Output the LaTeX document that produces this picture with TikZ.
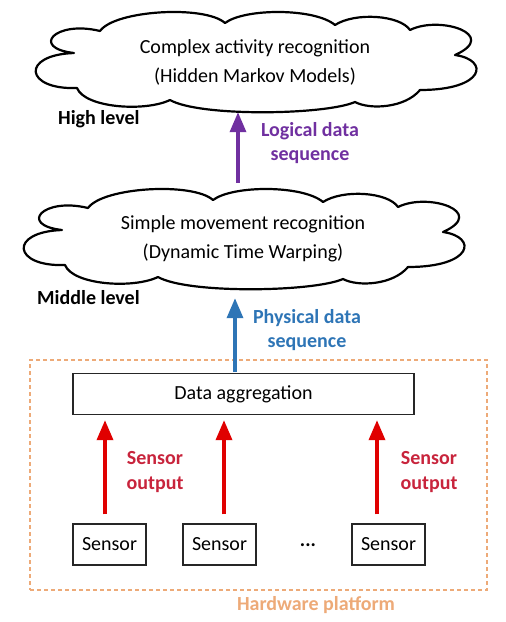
\documentclass[tikz,border=0pt]{standalone}
\usepackage{fontspec}
\setmainfont{Carlito}
\usetikzlibrary{arrows.meta,calc}
\definecolor{purp}{HTML}{7030A0}
\definecolor{blu}{HTML}{2E75B6}
\definecolor{redarr}{HTML}{E00000}
\definecolor{redtxt}{HTML}{C8243C}
\definecolor{orng}{HTML}{EDAA78}
\newcommand\mycloudpath{(-155,-29) .. controls (-140,-50) and (-50,-55) .. (-30,-37)
  .. controls (-10,-52) and (60,-52) .. (80,-35)
  .. controls (100,-48) and (145,-45) .. (155,-30)
  .. controls (185,-45) and (245,-25) .. (200,-5)
  .. controls (235,0) and (230,30) .. (165,30)
  .. controls (150,48) and (115,50) .. (100,42)
  .. controls (70,55) and (-55,57) .. (-85,40)
  .. controls (-110,52) and (-170,48) .. (-178,28)
  .. controls (-230,30) and (-235,-5) .. (-181,-7)
  .. controls (-225,-12) and (-200,-40) .. (-155,-29) -- cycle}
\begin{document}
\begin{tikzpicture}[x=1pt,y=-1pt,
  every node/.style={font=\fontsize{20}{29}\selectfont, inner sep=0pt},
  cloudtext/.style={align=center, minimum width=440pt, minimum height=90pt},
  lbl/.style={font=\fontsize{20}{24.5}\selectfont\bfseries, align=center},
  boxnode/.style={draw=black!85, line width=1.3pt, minimum height=41pt},
  arr/.style={line width=3.5pt, -{Triangle[width=16pt,length=20pt]}},
  cloudline/.style={draw=black, line width=2.2pt, line join=round, fill=white}
]
\useasboundingbox (0,0) rectangle (506,622);
% clouds
\begin{scope}[shift={(255,60)}]
  \path[cloudline] \mycloudpath;
\end{scope}
\begin{scope}[shift={(243,237)}]
  \path[cloudline] \mycloudpath;
\end{scope}
\node[cloudtext] (top) at (255,62) {Complex activity recognition\\(Hidden Markov Models)};
\node[cloudtext] (mid) at (243,239) {Simple movement recognition\\(Dynamic Time Warping)};
% hardware platform
\node[draw=orng, line width=1.8pt, dash pattern=on 4pt off 3pt, minimum width=457pt, minimum height=230pt] (hw) at (258.5,475) {};
\node[boxnode, minimum width=341pt] (agg) at (243.5,394) {Data aggregation};
\node[boxnode, minimum width=73pt] (s1) at (109.5,544.5) {Sensor};
\node[boxnode, minimum width=73pt] (s2) at (219.5,544.5) {Sensor};
\node[boxnode, minimum width=73pt] (s3) at (388.5,544.5) {Sensor};
\node[font=\fontsize{20}{24}\selectfont\bfseries] (dots) at (308,545) {...};
% labels
\node[lbl, anchor=west] (hl) at (58,119) {High level};
\node[lbl, text=purp] (ld) at (310,143) {Logical data\\sequence};
\node[lbl, anchor=west] (ml) at (37,298) {Middle level};
\node[lbl, text=blu] (pd) at (307,330) {Physical data\\sequence};
\node[lbl, text=redtxt] (so1) at (155,472) {Sensor\\output};
\node[lbl, text=redtxt] (so2) at (429,472) {Sensor\\output};
\node[lbl, text=orng] (hp) at (316,605) {Hardware platform};
% arrows
\draw[arr, purp] ($(mid.north)+(-5,-11)$) -- ($(top.south)+(-17,5)$);
\draw[arr, blu] ($(agg.north)+(-8.5,-1)$) -- ($(mid.south)+(-8,14)$);
\draw[arr, redarr] ($(s1.north)+(-4.5,-9)$) -- ($(s1.north |- agg.south)+(-4.5,5)$);
\draw[arr, redarr] ($(s2.north)+(4.5,-9)$) -- ($(s2.north |- agg.south)+(4.5,5)$);
\draw[arr, redarr] ($(s3.north)+(-11.5,-9)$) -- ($(s3.north |- agg.south)+(-11.5,5)$);
\end{tikzpicture}
\end{document}
